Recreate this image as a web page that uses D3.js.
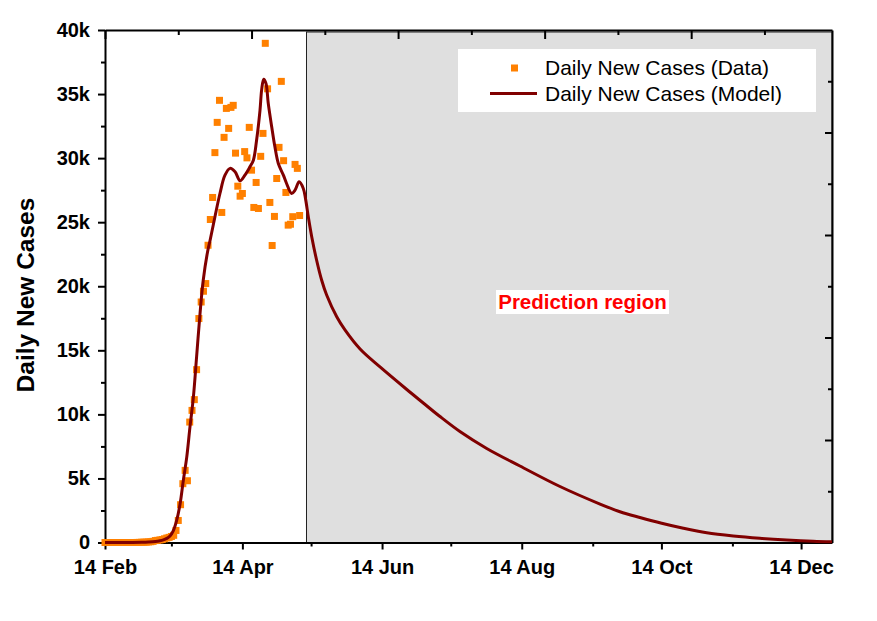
<!DOCTYPE html>
<html>
<head>
<meta charset="utf-8">
<script src="https://cdn.jsdelivr.net/npm/d3@7"></script>
<style>
  body { margin: 0; background: #fff; }
  svg text { font-family: "Liberation Sans", Arial, sans-serif; }
</style>
</head>
<body>
<div id="chart"></div>
<script>
// observed data: day offset from 14 Feb 2020 and daily new cases
const dataDays = [0,1,2,3,4,5,6,7,8,9,10,11,12,13,14,15,16,17,18,19,20,21,22,23,24,25,26,27,28,29,
  30,31,32,33,34,35,36,37,38,39,40,41,42,43,44,45,46,47,48,49,50,51,52,53,54,55,56,57,58,59,
  60,61,62,63,64,65,66,67,68,69,70,71,72,73,74,75,76,77,78,79,80,81,82,83,84,85];
const dataCases = [0,0,0,0,0,0,0,0,0,0,0,0,0,0,5,10,20,25,30,45,60,90,150,170,200,230,290,350,400,470,
  560,940,1720,2950,4590,5630,4820,9400,10310,11150,13490,17480,18770,19610,20210,23200,25210,26930,30430,32790,
  34510,25760,31620,33880,32320,33960,34120,30390,27810,27030,27240,30510,30020,32400,29060,26150,28100,26070,30140,31930,
  38960,35410,26540,23180,25450,28410,30840,35990,29800,27320,24770,24840,25430,29510,29200,25520];

// model curve
const modelDays = [0,12,16,19,22,24,25.5,27,28.4,29.8,31.3,32.8,34.2,35.7,37.1,38.6,40,41.5,42.9,44.8,
  45.9,48,50.2,52.4,54.6,56.8,59,61.1,63.3,64.8,66.2,67.7,68.4,69.3,70.3,71.3,72.8,74.2,75.7,77.9,
  79.3,81.5,83,84.8,86.6,87.6,88.8,90.3,92.4,94.6,96.8,101.2,104.8,111.4,120.1,131.8,139,146.3,155,166.7,
  181.2,198.7,216.2,224.9,233.6,243.1,252.6,262.8,274.4,286,297.7,309.3,317.5];
const modelCases = [0,0,10,30,70,130,200,320,500,900,1720,3020,4840,6660,9000,11350,14480,17870,20470,22700,
  23590,25410,27240,28670,29200,28930,28230,28670,29320,29840,31400,33750,35310,36150,35830,34270,32450,30880,29580,28670,
  28020,27240,27500,28150,27630,26800,25410,23850,22050,20490,19320,17620,16590,15100,13700,11940,10890,9830,8660,7340,
  5970,4370,3000,2400,1950,1500,1110,760,510,330,195,95,55];

const yMajor = [0,5000,10000,15000,20000,25000,30000,35000,40000];
const yMinor = [2500,7500,12500,17500,22500,27500,32500,37500];
const xMajor = ["2020-02-14","2020-04-14","2020-06-14","2020-08-14","2020-10-14","2020-12-14"];
const xMinor = ["2020-03-14","2020-05-14","2020-07-14","2020-09-14","2020-11-14"];
const predictionStart = "2020-05-12";
const legendLabels = ["Daily New Cases (Data)", "Daily New Cases (Model)"];

const W = 877, H = 621;
const plot = { left: 105, right: 832, top: 30, bottom: 542.5 };
const day0 = new Date(Date.UTC(2020, 1, 14));
const toDate = d => new Date(day0.getTime() + d * 864e5);
const parse = d3.utcParse("%Y-%m-%d");

const svg = d3.select("#chart").append("svg")
    .attr("width", W)
    .attr("height", H);

const x = d3.scaleUtc()
    .domain([day0, toDate(317.5)])
    .range([plot.left, plot.right]);

const y = d3.scaleLinear()
    .domain([0, 40000])
    .range([plot.bottom, plot.top]);

// prediction region
svg.append("rect")
    .attr("x", x(parse(predictionStart)))
    .attr("y", plot.top + 2)
    .attr("width", plot.right - x(parse(predictionStart)))
    .attr("height", plot.bottom - plot.top - 2)
    .attr("fill", "#dfdfdf")
    .attr("stroke", "#222")
    .attr("stroke-width", 1);

svg.append("rect")
    .attr("x", 496).attr("y", 290)
    .attr("width", 173).attr("height", 24)
    .attr("fill", "#fff");
svg.append("text")
    .attr("x", 582.5).attr("y", 308.5)
    .attr("text-anchor", "middle")
    .attr("font-size", "20.5px")
    .attr("font-weight", "bold")
    .attr("fill", "#ff0000")
    .text("Prediction region");

// axes
function styleAxis(g, hideDomain) {
  g.selectAll(".tick line").attr("stroke", "#000").attr("stroke-width", 2);
  g.select(".domain").attr("stroke", "#000").attr("stroke-width", 2)
    .attr("display", hideDomain ? "none" : null);
  g.selectAll("text").attr("font-size", "20px").attr("font-weight", "bold").attr("fill", "#000");
}

svg.append("g")
    .attr("transform", `translate(0,${plot.bottom})`)
    .call(d3.axisBottom(x).tickValues(xMinor.map(parse)).tickSize(4).tickSizeOuter(0).tickFormat(""))
    .call(g => styleAxis(g, true));
svg.append("g")
    .attr("transform", `translate(0,${plot.bottom})`)
    .call(d3.axisBottom(x).tickValues(xMajor.map(parse)).tickSize(7).tickSizeOuter(0)
      .tickPadding(10).tickFormat(d3.utcFormat("%d %b")))
    .call(g => styleAxis(g, false));

svg.append("g")
    .attr("transform", `translate(${plot.left},0)`)
    .call(d3.axisLeft(y).tickValues(yMinor).tickSize(4).tickSizeOuter(0).tickFormat(""))
    .call(g => styleAxis(g, true));
svg.append("g")
    .attr("transform", `translate(${plot.left},0)`)
    .call(d3.axisLeft(y).tickValues(yMajor).tickSize(7).tickSizeOuter(0).tickPadding(8)
      .tickFormat(d => d === 0 ? "0" : d / 1000 + "k"))
    .call(g => styleAxis(g, false));

// mirrored top / right axes, ticks inward
svg.append("g")
    .attr("transform", `translate(0,${plot.top})`)
    .call(d3.axisTop(x).tickValues([32, 96, 160, 224, 288].map(toDate)).tickSize(-5).tickSizeOuter(0).tickFormat(""))
    .call(g => styleAxis(g, true));
svg.append("g")
    .attr("transform", `translate(0,${plot.top})`)
    .call(d3.axisTop(x).tickValues([0, 64, 128, 192, 256].map(toDate)).tickSize(-9).tickSizeOuter(0).tickFormat(""))
    .call(g => styleAxis(g, false));

svg.append("g")
    .attr("transform", `translate(${plot.right},0)`)
    .call(d3.axisRight(y).tickValues([4000, 12000, 20000, 28000, 36000]).tickSize(-4).tickSizeOuter(0).tickFormat(""))
    .call(g => styleAxis(g, true));
svg.append("g")
    .attr("transform", `translate(${plot.right},0)`)
    .call(d3.axisRight(y).tickValues([8000, 16000, 24000, 32000]).tickSize(-7).tickSizeOuter(0).tickFormat(""))
    .call(g => styleAxis(g, false));

// data points
svg.append("g")
  .selectAll("rect")
  .data(dataDays)
  .enter()
  .append("rect")
    .attr("x", (d) => x(toDate(d)) - 3.5)
    .attr("y", (d, i) => y(dataCases[i]) - 3.5)
    .attr("width", 7)
    .attr("height", 7)
    .attr("fill", "#ff8000");

// model
const line = d3.line()
    .x((d) => x(toDate(d)))
    .y((d, i) => y(modelCases[i]))
    .curve(d3.curveCatmullRom.alpha(0.5));

svg.append("path")
    .datum(modelDays)
    .attr("d", line)
    .attr("fill", "none")
    .attr("stroke", "#800000")
    .attr("stroke-width", 3)
    .attr("stroke-linejoin", "round");

// legend
svg.append("rect")
    .attr("x", 458).attr("y", 49)
    .attr("width", 358).attr("height", 63)
    .attr("fill", "#fff");
svg.append("rect")
    .attr("x", 511).attr("y", 64.5)
    .attr("width", 7).attr("height", 7)
    .attr("fill", "#ff8000");
svg.append("line")
    .attr("x1", 490).attr("x2", 537)
    .attr("y1", 93.5).attr("y2", 93.5)
    .attr("stroke", "#800000")
    .attr("stroke-width", 3);
svg.selectAll(".legtext")
  .data(legendLabels)
  .enter()
  .append("text")
    .attr("x", 545)
    .attr("y", (d, i) => 75 + i * 25.5)
    .attr("font-size", "21px")
    .attr("fill", "#000")
    .text(d => d);

// y title
svg.append("text")
    .attr("transform", "translate(34,295) rotate(-90)")
    .attr("text-anchor", "middle")
    .attr("font-size", "24.5px")
    .attr("font-weight", "bold")
    .attr("fill", "#000")
    .text("Daily New Cases");
</script>
</body>
</html>
